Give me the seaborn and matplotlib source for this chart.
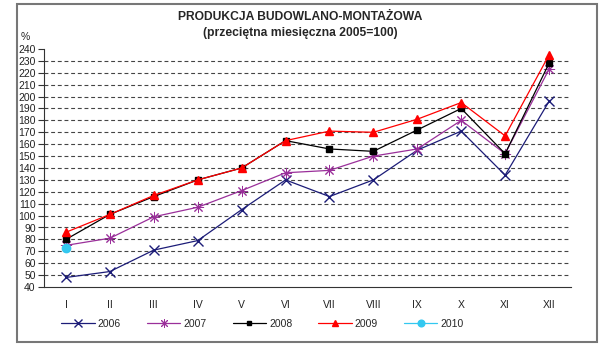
import matplotlib
matplotlib.use("Agg")
import matplotlib.pyplot as plt
import seaborn as sns
import pandas as pd
import numpy as np
from matplotlib.patches import Rectangle
from matplotlib.lines import Line2D

months = ["I", "II", "III", "IV", "V", "VI", "VII", "VIII", "IX", "X", "XI", "XII"]
y2006 = [48, 53, 71, 79, 105, 130, 116, 130, 155, 171, 134, 196]
y2007 = [75, 81, 99, 107, 121, 136, 138, 150, 156, 180, 152, 223]
y2008 = [80, 101, 116, 130, 140, 163, 156, 154, 172, 190, 152, 228]
y2009 = [86, 101, 117, 130, 140, 163, 171, 170, 181, 195, 167, 235]
y2010 = [73]
years = ["2006", "2007", "2008", "2009", "2010"]
series = [y2006, y2007, y2008, y2009, y2010]

rows = []
for yr, vals in zip(years, series):
    for i, v in enumerate(vals):
        rows.append({"month": i, "value": v, "year": yr})
df = pd.DataFrame(rows)

sns.set_theme(style="white")
plt.rcParams["font.family"] = ["Liberation Sans", "DejaVu Sans"]

palette = {"2006": "#1c1c78", "2007": "#9a2f9a", "2008": "#000000",
           "2009": "#ff0000", "2010": "#33c8f0"}
markers = {"2006": "x", "2007": (8, 2, 0), "2008": "s", "2009": "^", "2010": "o"}
msize = {"2006": 7, "2007": 8, "2008": 4, "2009": 6, "2010": 6}
medge = {"2006": 1.0, "2007": 0.7, "2008": 1.0, "2009": 1.0, "2010": 1.0}

fig = plt.figure(figsize=(6.0, 3.47), dpi=100)
ax = fig.add_axes([44/600, 1-287/347, (571-44)/600, (287-49)/347])

for yr in years:
    sub = df[df.year == yr]
    sns.lineplot(data=sub, x="month", y="value", ax=ax, color=palette[yr],
                 marker=markers[yr], markersize=msize[yr], linewidth=0.9,
                 markeredgecolor=palette[yr], markeredgewidth=medge[yr], legend=False)

ax.set_xlim(-0.5, 11.5)
ax.set_ylim(40, 240)
ax.set_yticks(np.arange(40, 241, 10))
ax.set_xticks(np.arange(12))
ax.set_xticklabels(months)
ax.set_xticks(np.arange(-0.5, 12, 1), minor=True)
ax.tick_params(axis="x", which="major", length=0, labelsize=7.5, pad=9, colors="#222222")
ax.tick_params(axis="x", which="minor", length=4, direction="out", color="#333333", width=0.8)
ax.tick_params(axis="y", which="major", length=4, direction="out", labelsize=7.5, pad=2,
               color="#333333", width=0.8, left=True, labelcolor="#222222")
ax.set_xlabel("")
ax.set_ylabel("")
for s in ["top", "right"]:
    ax.spines[s].set_visible(False)
for s in ["left", "bottom"]:
    ax.spines[s].set_color("#333333")
    ax.spines[s].set_linewidth(0.8)
ax.yaxis.grid(True, linestyle=(0, (3.5, 2.5)), color="#444444", linewidth=0.8)
gl = ax.yaxis.get_gridlines()
gl[0].set_visible(False)
gl[-1].set_visible(False)
ax.set_axisbelow(True)

ax.text(-0.035, 1.03, "%", transform=ax.transAxes, fontsize=7.5, ha="center", va="bottom")

fig.text(0.5, 1-17/347, "PRODUKCJA BUDOWLANO-MONTAŻOWA", ha="center", va="center",
         fontsize=8.7, fontweight="bold")
fig.text(0.5, 1-33/347, "(przeciętna miesięczna 2005=100)", ha="center", va="center",
         fontsize=8.7, fontweight="bold")

handles = [Line2D([], [], color=palette[yr], marker=markers[yr], markersize=msize[yr]*0.8,
                  linewidth=0.9, markeredgecolor=palette[yr], markeredgewidth=medge[yr])
           for yr in years]
fig.legend(handles, years, loc="center left", bbox_to_anchor=(52/600, 1-324/347),
           ncol=5, frameon=False, fontsize=7.5, handlelength=3.2, columnspacing=2.5,
           handletextpad=0.3)

fig.patches.append(Rectangle((17/600, 1-342/347), 580/600, 338/347, transform=fig.transFigure,
                             fill=False, edgecolor="#777777", linewidth=1.5))

fig.savefig("out.png", dpi=100)
